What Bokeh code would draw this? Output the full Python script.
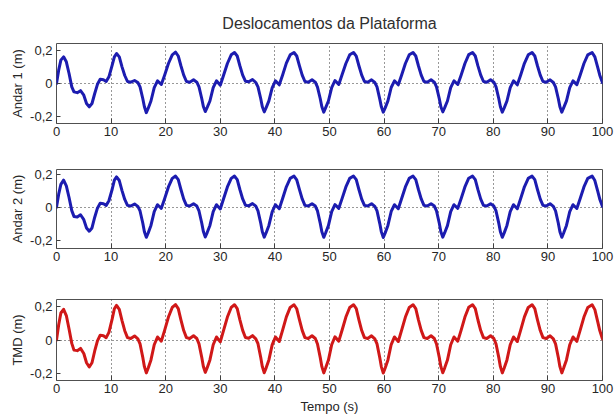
from bokeh.plotting import figure
from bokeh.layouts import column
from bokeh.models import Range1d, FixedTicker, CustomJSTickFormatter
from bokeh.embed import file_html
from bokeh.resources import INLINE

# ---------------- data ----------------
time_s = [
    0.0, 0.4, 0.8, 1.3, 1.8, 2.3, 2.8, 3.2, 3.8, 4.4, 5.0, 5.5, 6.0, 6.5, 7.0, 7.5, 8.0, 8.6, 9.1, 9.6, 10.2, 10.6,
    11.0, 11.5, 12.0, 12.5, 13.0, 13.6, 14.3, 14.9, 15.3, 15.8, 16.1, 16.45, 16.8, 17.3, 17.9, 18.5, 19.2, 19.8, 20.5, 21.2,
    21.8, 22.3, 22.8, 23.3, 23.8, 24.4, 25.1, 25.7, 26.1, 26.6, 26.9, 27.25, 27.6, 28.1, 28.7, 29.3, 30.0, 30.6, 31.3, 32.0,
    32.6, 33.1, 33.6, 34.1, 34.6, 35.2, 35.9, 36.5, 36.9, 37.4, 37.7, 38.05, 38.4, 38.9, 39.5, 40.1, 40.8, 41.4, 42.1, 42.8,
    43.5, 44.0, 44.5, 45.0, 45.5, 46.1, 46.8, 47.4, 47.8, 48.3, 48.6, 48.95, 49.3, 49.8, 50.4, 51.0, 51.7, 52.3, 53.0, 53.7,
    54.4, 54.9, 55.4, 55.9, 56.4, 57.0, 57.7, 58.3, 58.7, 59.2, 59.5, 59.85, 60.2, 60.7, 61.3, 61.9, 62.6, 63.2, 63.9, 64.6,
    65.3, 65.8, 66.3, 66.8, 67.3, 67.9, 68.6, 69.2, 69.6, 70.1, 70.4, 70.75, 71.1, 71.6, 72.2, 72.8, 73.5, 74.1, 74.8, 75.5,
    76.2, 76.7, 77.2, 77.7, 78.2, 78.8, 79.5, 80.1, 80.5, 81.0, 81.3, 81.65, 82.0, 82.5, 83.1, 83.7, 84.4, 85.0, 85.7, 86.4,
    87.1, 87.6, 88.1, 88.6, 89.1, 89.7, 90.4, 91.0, 91.4, 91.9, 92.2, 92.55, 92.9, 93.4, 94.0, 94.6, 95.3, 95.9, 96.6, 97.3,
    98.1, 98.6, 99.1, 99.5, 100.0,
]

andar1_m = [
    0.0, 0.08, 0.14, 0.16, 0.13, 0.06, -0.02, -0.05, -0.055, -0.043, -0.07, -0.12, -0.14, -0.12, -0.06, -0.005, 0.025, 0.022, 0.012, 0.04, 0.11, 0.16,
    0.18, 0.16, 0.10, 0.048, 0.012, 0.008, 0.018, 0.006, -0.02, -0.09, -0.14, -0.175, -0.148, -0.105, -0.025, 0.016, -0.006, 0.05, 0.12, 0.172,
    0.188, 0.165, 0.105, 0.05, 0.012, 0.008, 0.022, 0.008, -0.02, -0.09, -0.138, -0.168, -0.143, -0.105, -0.025, 0.016, -0.01, 0.05, 0.12, 0.172,
    0.186, 0.165, 0.105, 0.05, 0.014, 0.01, 0.024, 0.006, -0.02, -0.09, -0.14, -0.17, -0.145, -0.104, -0.026, 0.016, -0.008, 0.05, 0.122, 0.172,
    0.186, 0.165, 0.106, 0.05, 0.012, 0.008, 0.022, 0.008, -0.022, -0.09, -0.14, -0.172, -0.145, -0.105, -0.025, 0.018, -0.006, 0.052, 0.12, 0.172,
    0.186, 0.164, 0.105, 0.05, 0.012, 0.008, 0.022, 0.006, -0.02, -0.092, -0.14, -0.172, -0.146, -0.104, -0.024, 0.016, -0.008, 0.05, 0.12, 0.172,
    0.186, 0.165, 0.105, 0.05, 0.012, 0.008, 0.022, 0.008, -0.02, -0.09, -0.14, -0.17, -0.145, -0.105, -0.025, 0.016, -0.006, 0.05, 0.12, 0.173,
    0.186, 0.165, 0.104, 0.05, 0.012, 0.008, 0.022, 0.008, -0.02, -0.09, -0.14, -0.172, -0.146, -0.105, -0.025, 0.016, -0.008, 0.05, 0.121, 0.172,
    0.186, 0.165, 0.105, 0.05, 0.012, 0.008, 0.022, 0.006, -0.02, -0.09, -0.14, -0.172, -0.145, -0.104, -0.025, 0.016, -0.007, 0.05, 0.12, 0.172,
    0.186, 0.16, 0.10, 0.05, 0.005,
]

andar2_m = [
    0.0, 0.08, 0.14, 0.165, 0.13, 0.06, -0.02, -0.055, -0.058, -0.045, -0.075, -0.125, -0.145, -0.125, -0.06, -0.005, 0.025, 0.022, 0.012, 0.04, 0.11, 0.165,
    0.185, 0.163, 0.102, 0.048, 0.012, 0.008, 0.02, 0.006, -0.022, -0.095, -0.148, -0.182, -0.155, -0.11, -0.026, 0.016, -0.006, 0.052, 0.124, 0.176,
    0.19, 0.168, 0.107, 0.05, 0.012, 0.008, 0.022, 0.008, -0.022, -0.095, -0.147, -0.18, -0.153, -0.11, -0.026, 0.016, -0.01, 0.052, 0.124, 0.176,
    0.19, 0.168, 0.107, 0.051, 0.013, 0.009, 0.023, 0.007, -0.021, -0.095, -0.148, -0.181, -0.154, -0.11, -0.027, 0.016, -0.008, 0.052, 0.125, 0.176,
    0.19, 0.167, 0.108, 0.051, 0.012, 0.008, 0.022, 0.008, -0.022, -0.096, -0.148, -0.182, -0.154, -0.111, -0.026, 0.017, -0.006, 0.053, 0.124, 0.176,
    0.19, 0.168, 0.107, 0.05, 0.012, 0.008, 0.022, 0.006, -0.021, -0.097, -0.149, -0.183, -0.155, -0.11, -0.025, 0.016, -0.008, 0.052, 0.124, 0.176,
    0.19, 0.168, 0.107, 0.051, 0.012, 0.008, 0.022, 0.008, -0.022, -0.095, -0.148, -0.181, -0.154, -0.111, -0.026, 0.016, -0.006, 0.052, 0.124, 0.177,
    0.19, 0.168, 0.106, 0.05, 0.012, 0.008, 0.022, 0.008, -0.022, -0.096, -0.148, -0.182, -0.155, -0.11, -0.026, 0.016, -0.008, 0.052, 0.125, 0.176,
    0.19, 0.168, 0.107, 0.05, 0.012, 0.008, 0.022, 0.006, -0.021, -0.095, -0.148, -0.182, -0.154, -0.11, -0.026, 0.016, -0.007, 0.052, 0.124, 0.176,
    0.19, 0.163, 0.102, 0.05, 0.005,
]

tmd_m = [
    0.0, 0.09, 0.16, 0.182, 0.145, 0.065, -0.02, -0.06, -0.063, -0.05, -0.08, -0.135, -0.16, -0.135, -0.065, -0.005, 0.028, 0.025, 0.014, 0.045, 0.125, 0.185,
    0.205, 0.182, 0.115, 0.055, 0.014, 0.009, 0.024, 0.007, -0.023, -0.102, -0.158, -0.195, -0.166, -0.118, -0.028, 0.018, -0.007, 0.057, 0.136, 0.193,
    0.21, 0.186, 0.118, 0.056, 0.014, 0.009, 0.025, 0.009, -0.023, -0.102, -0.157, -0.192, -0.164, -0.118, -0.028, 0.018, -0.011, 0.057, 0.136, 0.193,
    0.209, 0.186, 0.118, 0.057, 0.015, 0.01, 0.026, 0.007, -0.022, -0.102, -0.158, -0.194, -0.165, -0.118, -0.029, 0.018, -0.009, 0.057, 0.137, 0.193,
    0.209, 0.185, 0.119, 0.057, 0.014, 0.009, 0.025, 0.009, -0.024, -0.103, -0.158, -0.195, -0.165, -0.119, -0.028, 0.019, -0.007, 0.058, 0.136, 0.193,
    0.209, 0.186, 0.118, 0.056, 0.014, 0.009, 0.025, 0.007, -0.023, -0.104, -0.159, -0.196, -0.166, -0.118, -0.027, 0.018, -0.009, 0.057, 0.136, 0.193,
    0.209, 0.186, 0.118, 0.057, 0.014, 0.009, 0.025, 0.009, -0.024, -0.102, -0.158, -0.194, -0.165, -0.119, -0.028, 0.018, -0.007, 0.057, 0.136, 0.194,
    0.209, 0.186, 0.117, 0.056, 0.014, 0.009, 0.025, 0.009, -0.024, -0.103, -0.158, -0.195, -0.166, -0.118, -0.028, 0.018, -0.009, 0.057, 0.137, 0.193,
    0.209, 0.186, 0.118, 0.056, 0.014, 0.009, 0.025, 0.007, -0.023, -0.102, -0.158, -0.195, -0.165, -0.118, -0.028, 0.018, -0.008, 0.057, 0.136, 0.193,
    0.209, 0.18, 0.112, 0.056, 0.005,
]

x_ticks = [0, 10, 20, 30, 40, 50, 60, 70, 80, 90, 100]
x_grid = [10, 20, 30, 40, 50, 60, 70, 80, 90]
y_ticks = [-0.2, 0, 0.2]
y_grid = [0]

title_text = "Deslocamentos da Plataforma"
x_label = "Tempo (s)"

FONT = "Liberation Sans"
TXT = "#262626"

tick_fmt_code = """
if (Math.abs(tick) < 1e-9) { return '0'; }
return tick.toFixed(1).replace('.', ',');
"""


def make_panel(y, color, ylabel, ylo, yhi, top, fh, bottom, title=None, xlabel=None):
    p = figure(width=614, height=top + fh + bottom,
               frame_width=546, frame_height=fh,
               min_border_left=56, min_border_right=12,
               min_border_top=top, min_border_bottom=bottom,
               x_range=Range1d(0, 100), y_range=Range1d(ylo, yhi),
               output_backend="svg", toolbar_location=None,
               background_fill_color="white", border_fill_color="white")
    p.line(time_s, y, line_color=color, line_width=3, line_join="round", line_cap="round")

    p.outline_line_color = "#505050"
    p.outline_line_width = 1

    # grid
    p.xgrid.ticker = FixedTicker(ticks=x_grid)
    p.ygrid.ticker = FixedTicker(ticks=y_grid)
    for g in (p.xgrid[0], p.ygrid[0]):
        g.grid_line_color = "#303030"
        g.grid_line_dash = "1 3"
        g.grid_line_width = 1

    xa = p.xaxis[0]
    xa.ticker = FixedTicker(ticks=x_ticks)
    xa.axis_line_color = None
    xa.major_tick_in = 5
    xa.major_tick_out = 0
    xa.major_tick_line_color = "#404040"
    xa.minor_tick_line_color = None
    xa.major_label_standoff = 3
    xa.major_label_text_font = FONT
    xa.major_label_text_font_size = "13px"
    xa.major_label_text_color = TXT
    if xlabel:
        xa.axis_label = xlabel
        xa.axis_label_text_font = FONT
        xa.axis_label_text_font_size = "13px"
        xa.axis_label_text_font_style = "normal"
        xa.axis_label_text_color = TXT
        xa.axis_label_standoff = 3

    ya = p.yaxis[0]
    ya.ticker = FixedTicker(ticks=y_ticks)
    ya.formatter = CustomJSTickFormatter(code=tick_fmt_code)
    ya.axis_line_color = None
    ya.major_tick_in = 4
    ya.major_tick_out = 0
    ya.major_tick_line_color = "#404040"
    ya.minor_tick_line_color = None
    ya.major_label_standoff = 4
    ya.major_label_text_font = FONT
    ya.major_label_text_font_size = "13px"
    ya.major_label_text_color = TXT
    ya.axis_label = ylabel
    ya.axis_label_text_font = FONT
    ya.axis_label_text_font_size = "13px"
    ya.axis_label_text_font_style = "normal"
    ya.axis_label_text_color = TXT
    ya.axis_label_standoff = 2

    if title:
        p.title.text = title
        p.title.align = "center"
        p.title.text_font = FONT
        p.title.text_font_size = "16px"
        p.title.text_font_style = "normal"
        p.title.text_color = "#303030"
        p.title.standoff = 23
    return p


p1 = make_panel(andar1_m, "#1c1cb0", "Andar 1 (m)", -0.24, 0.24, 43, 80, 27, title=title_text)
p2 = make_panel(andar2_m, "#1c1cb0", "Andar 2 (m)", -0.25, 0.23, 19, 79, 32)
p3 = make_panel(tmd_m, "#d01818", "TMD (m)", -0.24, 0.24, 19, 81, 39, xlabel=x_label)

layout = column(p1, p2, p3, spacing=0)

open("out.html", "w").write(file_html(layout, INLINE))
